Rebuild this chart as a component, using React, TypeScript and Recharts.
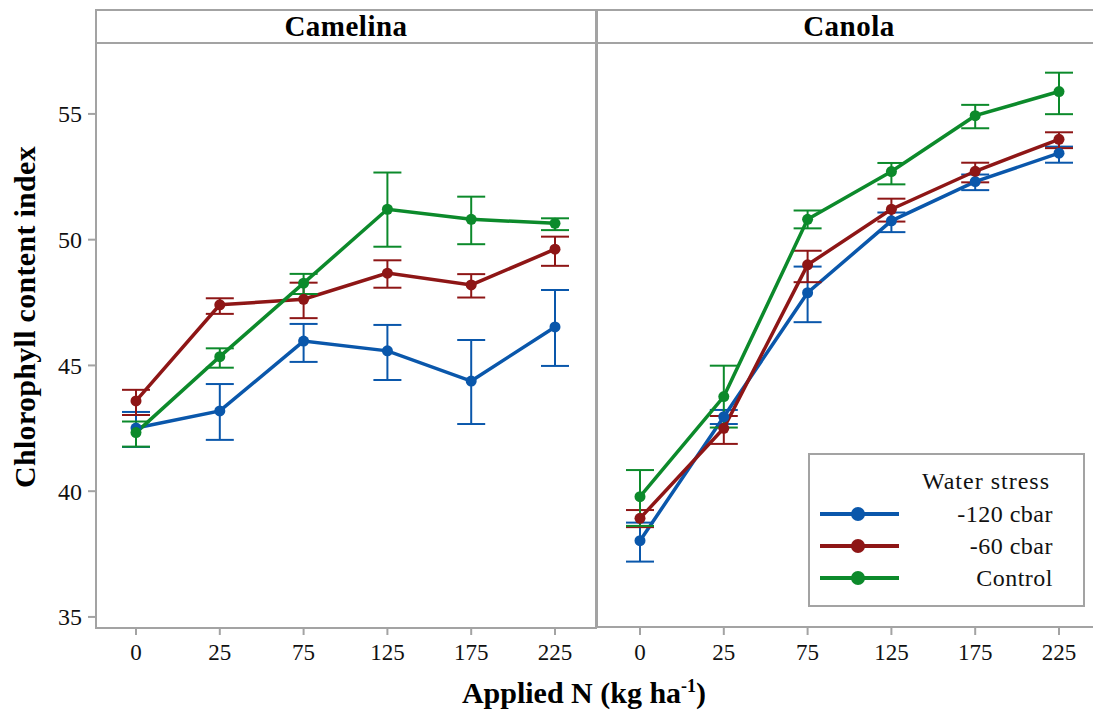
import { LineChart, Line, XAxis, YAxis, ErrorBar } from "recharts";

// Applied N rates (kg/ha), shown as evenly spaced categories
const nRates = ["0", "25", "75", "125", "175", "225"];

// Camelina - chlorophyll content index, means and error bar ends
const cam120 = [42.51, 43.19, 45.97, 45.58, 44.38, 46.53];
const cam120Hi = [43.15, 44.26, 46.65, 46.61, 46.01, 48.0];
const cam120Lo = [41.76, 42.04, 45.14, 44.42, 42.67, 44.98];

const cam60 = [43.59, 47.41, 47.63, 48.67, 48.2, 49.62];
const cam60Hi = [44.03, 47.67, 48.29, 49.18, 48.63, 50.12];
const cam60Lo = [43.03, 47.05, 46.88, 48.09, 47.7, 48.96];

const camCtl = [42.33, 45.35, 48.27, 51.21, 50.81, 50.65];
const camCtlHi = [42.77, 45.68, 48.64, 52.67, 51.71, 50.85];
const camCtlLo = [41.77, 44.91, 47.84, 49.72, 49.82, 50.38];

// Canola
const can120 = [38.03, 42.96, 47.89, 50.75, 52.31, 53.44];
const can120Hi = [38.75, 43.23, 48.93, 51.08, 52.59, 53.7];
const can120Lo = [37.2, 42.67, 46.72, 50.3, 51.97, 53.06];

const can60 = [38.92, 42.5, 49.0, 51.21, 52.72, 53.99];
const can60Hi = [39.25, 42.99, 49.56, 51.63, 53.06, 54.27];
const can60Lo = [38.57, 41.88, 48.31, 50.72, 52.28, 53.64];

const canCtl = [39.78, 43.76, 50.81, 52.71, 54.93, 55.89];
const canCtlHi = [40.84, 44.99, 51.16, 53.05, 55.36, 56.64];
const canCtlLo = [38.62, 42.53, 50.45, 52.2, 54.43, 54.99];

const yTicks = [35, 40, 45, 50, 55];

const BLUE = "#0a57ab";
const RED = "#8e1616";
const GREEN = "#0c8a2b";
const FRAME = "#a3a3a3";
const FONT = '"Liberation Serif", "Times New Roman", serif';

const seriesInfo = [
  { key: "s120", name: "-120 cbar", color: BLUE },
  { key: "s60", name: "-60 cbar", color: RED },
  { key: "ctl", name: "Control", color: GREEN },
];

type Group = { mean: number[]; hi: number[]; lo: number[] };

function buildRows(groups: Group[]) {
  return nRates.map((n, i) => {
    const row: Record<string, any> = { n };
    groups.forEach((g, j) => {
      const k = seriesInfo[j].key;
      row[k] = g.mean[i];
      row[k + "Err"] = [+(g.mean[i] - g.lo[i]).toFixed(2), +(g.hi[i] - g.mean[i]).toFixed(2)];
    });
    return row;
  });
}

const camelinaRows = buildRows([
  { mean: cam120, hi: cam120Hi, lo: cam120Lo },
  { mean: cam60, hi: cam60Hi, lo: cam60Lo },
  { mean: camCtl, hi: camCtlHi, lo: camCtlLo },
]);

const canolaRows = buildRows([
  { mean: can120, hi: can120Hi, lo: can120Lo },
  { mean: can60, hi: can60Hi, lo: can60Lo },
  { mean: canCtl, hi: canCtlHi, lo: canCtlLo },
]);

const Y_DOMAIN: [number, number] = [34.56, 57.82];

function Panel({
  rows,
  width,
  showY,
  pad,
}: {
  rows: Record<string, any>[];
  width: number;
  showY: boolean;
  pad: { left: number; right: number };
}) {
  return (
    <LineChart width={width} height={715} data={rows} margin={{ top: 43, right: 0, bottom: 47, left: 0 }}>
      <XAxis
        dataKey="n"
        scale="point"
        padding={pad}
        height={40}
        interval={0}
        axisLine={false}
        tickLine={{ stroke: FRAME, strokeWidth: 2 }}
        tickSize={7}
        tickMargin={9}
        tick={{ fontFamily: FONT, fontSize: 23, fill: "#111" }}
      />
      <YAxis
        type="number"
        domain={Y_DOMAIN}
        ticks={yTicks}
        allowDataOverflow
        hide={!showY}
        width={95}
        axisLine={false}
        tickLine={{ stroke: FRAME, strokeWidth: 2 }}
        tickSize={7}
        tickMargin={6}
        tick={{ fontFamily: FONT, fontSize: 24, fill: "#111" }}
      />
      {seriesInfo.map((s) => (
        <Line
          key={s.key}
          dataKey={s.key}
          stroke={s.color}
          strokeWidth={3.5}
          dot={{ r: 5.5, fill: s.color, stroke: s.color, strokeWidth: 0 }}
          isAnimationActive={false}
        >
          <ErrorBar
            dataKey={s.key + "Err"}
            direction="y"
            width={14}
            stroke={s.color}
            strokeWidth={2}
            isAnimationActive={false}
          />
        </Line>
      ))}
    </LineChart>
  );
}

const titleStyle: React.CSSProperties = {
  position: "absolute",
  top: 9,
  height: 34,
  lineHeight: "34px",
  textAlign: "center",
  fontFamily: FONT,
  fontWeight: "bold",
  fontSize: 29,
  color: "#000",
};

export default function App() {
  const leftPad = { left: 41, right: 42 };
  const rightPad = { left: 43, right: 42 };
  return (
    <div
      style={{
        position: "absolute",
        left: 0,
        top: 0,
        width: 1093,
        height: 715,
        overflow: "hidden",
        background: "#fff",
        fontFamily: FONT,
      }}
    >
      {/* Camelina panel */}
      <div style={{ position: "absolute", left: 0, top: 0 }}>
        <Panel rows={camelinaRows} width={597} showY pad={leftPad} />
      </div>
      {/* Canola panel */}
      <div style={{ position: "absolute", left: 597, top: 0 }}>
        <Panel rows={canolaRows} width={504} showY={false} pad={rightPad} />
      </div>
      {/* tick marks along the top edge of the canola strip */}
      <div style={{ position: "absolute", left: 597, top: 0 }}>
        <LineChart width={504} height={43} data={canolaRows} margin={{ top: 0, right: 0, bottom: 0, left: 0 }}>
          <XAxis
            dataKey="n"
            orientation="top"
            scale="point"
            padding={rightPad}
            height={9}
            interval={0}
            axisLine={false}
            tick={false}
            tickLine={{ stroke: FRAME, strokeWidth: 2 }}
            tickSize={4}
          />
          <YAxis hide />
          <Line dataKey="ctl" stroke="none" dot={false} isAnimationActive={false} />
        </LineChart>
      </div>

      {/* panel frames and strip headers */}
      <div
        style={{
          position: "absolute",
          left: 95,
          top: 9,
          width: 502,
          height: 620,
          border: `2px solid ${FRAME}`,
          boxSizing: "border-box",
          pointerEvents: "none",
        }}
      />
      <div
        style={{
          position: "absolute",
          left: 596,
          top: 9,
          width: 510,
          height: 619,
          border: `2px solid ${FRAME}`,
          boxSizing: "border-box",
          pointerEvents: "none",
        }}
      />
      <div style={{ position: "absolute", left: 95, top: 42, width: 1010, height: 2, background: FRAME }} />
      <div style={{ ...titleStyle, left: 95, width: 502, letterSpacing: 0.5 }}>Camelina</div>
      <div style={{ ...titleStyle, left: 597, width: 504, letterSpacing: 0.5 }}>Canola</div>

      {/* axis titles */}
      <div
        style={{
          position: "absolute",
          left: 25,
          top: 317,
          transform: "translate(-50%, -50%) rotate(-90deg)",
          whiteSpace: "nowrap",
          fontWeight: "bold",
          fontSize: 30,
          letterSpacing: 0.3,
          color: "#000",
        }}
      >
        Chlorophyll content index
      </div>
      <div
        style={{
          position: "absolute",
          left: 584,
          top: 693,
          transform: "translate(-50%, -50%)",
          whiteSpace: "nowrap",
          fontWeight: "bold",
          fontSize: 30,
          color: "#000",
        }}
      >
        Applied N (kg ha<sup style={{ fontSize: "0.6em" }}>-1</sup>)
      </div>

      {/* legend */}
      <div
        style={{
          position: "absolute",
          left: 808,
          top: 453,
          width: 277,
          height: 154,
          border: `2px solid ${FRAME}`,
          boxSizing: "border-box",
          background: "#fff",
        }}
      >
        <div
          style={{
            position: "absolute",
            right: 33,
            top: 12,
            fontSize: 24,
            lineHeight: "28px",
            letterSpacing: 1,
            color: "#111",
            whiteSpace: "nowrap",
          }}
        >
          Water stress
        </div>
        {seriesInfo.map((s, i) => (
          <div key={s.key} style={{ position: "absolute", left: 0, top: 44 + i * 32, width: 273, height: 30 }}>
            <svg width={100} height={30} style={{ position: "absolute", left: 0, top: 0 }}>
              <line x1={10} x2={89} y1={15} y2={15} stroke={s.color} strokeWidth={4} />
              <circle cx={48} cy={15} r={7} fill={s.color} />
            </svg>
            <div
              style={{
                position: "absolute",
                right: 30,
                top: 0,
                fontSize: 24,
                lineHeight: "30px",
                letterSpacing: 0.5,
                color: "#111",
                whiteSpace: "nowrap",
              }}
            >
              {s.name}
            </div>
          </div>
        ))}
      </div>
    </div>
  );
}
